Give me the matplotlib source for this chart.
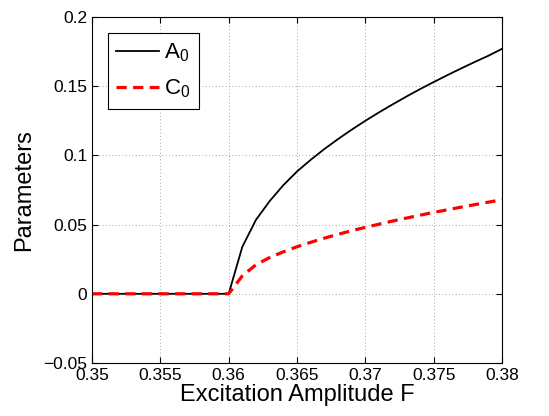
import numpy as np
import matplotlib
matplotlib.use("Agg")
from matplotlib import pyplot as plt

# excitation amplitude F
F = [0.350, 0.352, 0.354, 0.356, 0.358, 0.360,
     0.361, 0.362, 0.363, 0.364, 0.365, 0.366, 0.367, 0.368, 0.369, 0.370,
     0.371, 0.372, 0.373, 0.374, 0.375, 0.376, 0.377, 0.378, 0.379, 0.380]

A0 = [0, 0, 0, 0, 0, 0,
      0.0340, 0.0535, 0.0670, 0.0785, 0.0884, 0.0968, 0.1046, 0.1118, 0.1186, 0.1250,
      0.1311, 0.1369, 0.1425, 0.1479, 0.1530, 0.1580, 0.1628, 0.1675, 0.1720, 0.1770]

C0 = [0, 0, 0, 0, 0, 0,
      0.0130, 0.0210, 0.0262, 0.0303, 0.0340, 0.0372, 0.0402, 0.0430, 0.0456, 0.0480,
      0.0503, 0.0526, 0.0547, 0.0568, 0.0588, 0.0607, 0.0626, 0.0644, 0.0662, 0.0680]

xticks = [0.35, 0.355, 0.36, 0.365, 0.37, 0.375, 0.38]
xlabels = ["0.35", "0.355", "0.36", "0.365", "0.37", "0.375", "0.38"]
yticks = [-0.05, 0, 0.05, 0.1, 0.15, 0.2]
ylabels = ["\u22120.05", "0", "0.05", "0.1", "0.15", "0.2"]

plt.rcParams["font.family"] = ["Liberation Sans", "DejaVu Sans"]
plt.rcParams["mathtext.fontset"] = "custom"
plt.rcParams["mathtext.rm"] = "Liberation Sans"

fig = plt.figure(figsize=(5.49, 4.16), dpi=100)
ax = fig.add_axes([0.1676, 0.1274, 0.7468, 0.8317])

ax.plot(F, A0, color="black", lw=1.3, label=r"$\mathregular{A_0}$")
ax.plot(F, C0, color="red", lw=2.3, ls=(0, (3.2, 2.0)), label=r"$\mathregular{C_0}$")

ax.set_xlim(0.35, 0.38)
ax.set_ylim(-0.05, 0.2)
ax.set_xticks(xticks)
ax.set_xticklabels(xlabels)
ax.set_yticks(yticks)
ax.set_yticklabels(ylabels)
ax.tick_params(direction="in", top=True, right=True, labelsize=12.5, length=4, width=0.8)
for s in ax.spines.values():
    s.set_linewidth(0.8)

ax.grid(True, color="#888888", ls=(0, (1, 3)), lw=0.6)

ax.set_xlabel("Excitation Amplitude F", fontsize=17, labelpad=1)
ax.set_ylabel("Parameters", fontsize=17, labelpad=6)

leg = ax.legend(loc="upper left", fontsize=16, fancybox=False, framealpha=1,
                edgecolor="black", handlelength=1.9, borderaxespad=0.7,
                handletextpad=0.25, labelspacing=0.6, borderpad=0.4)
leg.get_frame().set_linewidth(0.8)

fig.savefig("out.png", dpi=100)
